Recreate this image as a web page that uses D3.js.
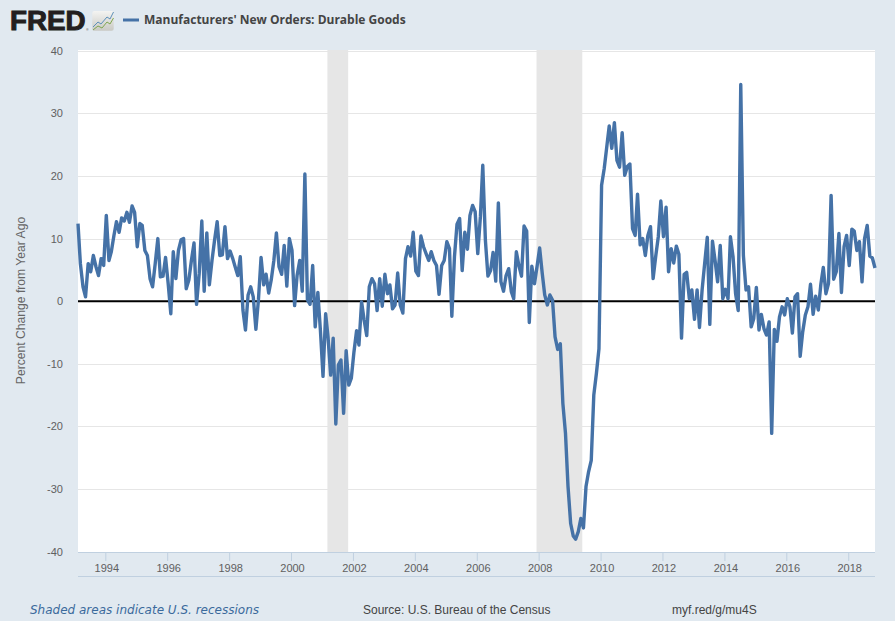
<!DOCTYPE html>
<html><head><meta charset="utf-8">
<script src="https://cdn.jsdelivr.net/npm/d3@7"></script>
<style>html,body{margin:0;padding:0;background:#e1e9f0;overflow:hidden}svg{display:block}</style>
</head><body><svg id="c" width="895" height="621"></svg>
<script>
const seriesTitle = "Manufacturers' New Orders: Durable Goods";
const yAxisTitle = "Percent Change from Year Ago";
const startMonth = "1993-02-01";
const endMonth = "2018-11-01";
const yTickValues = [40,30,20,10,0,-10,-20,-30,-40];
const xTickYears = [1994,1996,1998,2000,2002,2004,2006,2008,2010,2012,2014,2016,2018];
const recessions = [["2001-02-22","2001-10-25"],["2007-11-25","2009-05-18"]];
const percentChange = [
12.4,6,2.3,0.7,6,4.7,7.3,5.5,4.1,6.8,5.7,13.7,
6.5,7.9,10.5,12.7,11,13.3,12.8,14.2,12.6,15.2,14.2,8.7,
12.4,12.1,8.1,7.3,3.6,2.3,6,10,3.9,4,7,2.8,
-2,7.9,3.6,8.1,9.8,10,2,3.4,6.5,9.3,-0.5,4.4,
12.8,1.6,10.9,2.6,6.5,9.7,12.7,7.3,7.4,11.9,6.8,8,
6.8,5.5,4.1,7.1,-1.4,-4.6,1,2.3,0.7,-4.5,0.2,7,
2.6,4.3,1.3,3.4,6.5,10.9,5.5,4.3,8.9,2.4,10,8.1,
-0.7,4.1,6.5,1.6,20.3,0.2,-0.5,5.7,-4.1,1.4,-4.6,-12,
-2,-5.7,-11.8,-5.9,-19.6,-10.2,-9.4,-17.9,-7.9,-13.4,-12.3,-8.1,
-4.7,-7,-0.1,-3,-5.5,2.3,3.6,2.8,-1.5,3.6,-0.8,4.3,
1.2,2.6,-1.2,-0.6,4.5,-0.6,-1.9,6.8,8.7,7.2,11,4.8,
4.1,10.4,8.7,7.6,6.5,7.9,6.5,5.7,1.1,5.7,6.5,9.5,
8.4,-2.4,7.1,12.3,13.2,4.9,11,8.3,13.7,15.3,14.3,7.6,
13.5,21.7,9.7,4,4.9,7.8,3.2,15.7,3.1,1.6,4.1,5.2,
1.5,0.4,7.9,5.7,4,12,11.2,-3.4,5.6,2.8,5.5,8.5,
4.4,1,-0.6,1,0.2,-5.7,-7.7,-6.8,-16.3,-21.1,-29.6,-35.5,
-37.5,-38,-36.8,-34.7,-36.2,-29.6,-27.2,-25.4,-15,-11.5,-7.6,18.5,
21.2,24.4,28,24.4,28.5,22.5,21.4,26.9,20.1,21.5,21.9,11.6,
10.5,17.1,9,10,7.3,10.5,11.9,3.6,7.1,10.3,16,10.3,
15,4.7,8.4,6.1,8.8,7.5,-5.9,4.3,4.6,0.4,1.8,-2.9,
1.8,-4.2,1.8,6,10.2,-3.7,9.6,6.5,3.1,8.9,0.4,1.9,
0.4,10.3,7.1,1.2,-1.5,34.6,7.3,1.8,2.3,-4.1,-2.8,2.2,
-4.6,-2.1,-4.4,-5.4,-3.3,-21.1,-4.5,-6.4,-2.5,-0.9,-2.2,0.4,
-0.9,-5.1,0.7,1.2,-8.8,-4.9,-2.2,-0.9,2.7,-2.1,0.8,-1.4,
2.8,5.4,1.2,2.8,16.9,3.5,4.7,10.8,1.4,8.7,10.5,5.7,
11.5,11.2,8.1,9.5,3.1,10,12.1,7.2,6.9,5.3
];
const footerLeft = "Shaded areas indicate U.S. recessions";
const footerSource = "Source: U.S. Bureau of the Census";
const footerLink = "myf.red/g/mu4S";

const parse = d3.utcParse("%Y-%m-%d");
const months = d3.utcMonth.range(parse(startMonth), d3.utcMonth.offset(parse(endMonth),1));
const svg = d3.select("#c");
const x = d3.scaleUtc().domain([parse(startMonth),parse(endMonth)]).range([78,875]);
const y = d3.scaleLinear().domain([-40,40]).range([551.7,50.7]);
const plotTop = 50, plotBottom = 552;

svg.append("rect").attr("x",78).attr("y",plotTop).attr("width",797).attr("height",plotBottom-plotTop).attr("fill","#fff");
svg.append("g").selectAll("rect").data(recessions).join("rect")
  .attr("x",d=>x(parse(d[0]))).attr("y",plotTop)
  .attr("width",d=>x(parse(d[1]))-x(parse(d[0]))).attr("height",plotBottom-plotTop).attr("fill","#e6e6e6");

// grid
svg.append("g").selectAll("line").data(yTickValues.filter(v=>v!==0&&v!==-40)).join("line")
  .attr("x1",78).attr("x2",875).attr("y1",d=>Math.round(y(d))+.5).attr("y2",d=>Math.round(y(d))+.5)
  .attr("stroke","#e6e6e6").attr("stroke-width",1);

// y axis
const ya = svg.append("g").attr("transform","translate(78,0)")
  .call(d3.axisLeft(y).tickValues(yTickValues).tickFormat(d=>String(d)).tickSize(0).tickPadding(15));
ya.select(".domain").remove();
ya.selectAll("text").attr("font-family","'Liberation Sans',Arial,sans-serif").attr("font-size",11).attr("fill","#606060");

// zero line
svg.append("line").attr("x1",78).attr("x2",875).attr("y1",y(0)).attr("y2",y(0)).attr("stroke","#000").attr("stroke-width",2);

// series
const line = d3.line().x((d,i)=>x(months[i])).y(d=>y(d));
svg.append("path").datum(percentChange).attr("d",line).attr("fill","none")
  .attr("stroke","#4572a7").attr("stroke-width",3.4).attr("stroke-linejoin","round");

// x axis
const xa = svg.append("g").attr("transform",`translate(0,${plotBottom})`)
  .call(d3.axisBottom(x).tickValues(xTickYears.map(v=>new Date(Date.UTC(v,0,1))))
    .tickFormat(d3.utcFormat("%Y")).tickSize(9).tickPadding(3.5));
xa.select(".domain").remove();
xa.selectAll("line").attr("stroke","#c0d0e0").attr("x1",-1).attr("x2",-1);
xa.selectAll("text").attr("font-family","'Liberation Sans',Arial,sans-serif").attr("font-size",11).attr("fill","#606060");
svg.append("line").attr("x1",78).attr("x2",875).attr("y1",552.5).attr("y2",552.5).attr("stroke","#c0d0e0");
svg.append("line").attr("x1",78).attr("x2",875).attr("y1",576.5).attr("y2",576.5).attr("stroke","#c0d0e0");

// y title
svg.append("text").attr("transform","translate(24.5,300.5) rotate(-90)").attr("text-anchor","middle")
  .attr("font-family","'Liberation Sans',Arial,sans-serif").attr("font-size",12.15).attr("fill","#666").text(yAxisTitle);

// header
const logo = svg.append("g");
logo.append("text").attr("x",10).attr("y",30.3).attr("font-family","'Liberation Sans',Arial,sans-serif")
  .attr("font-weight",700).attr("font-size",27).attr("textLength",75.5).attr("lengthAdjust","spacingAndGlyphs")
  .attr("stroke","#231f20").attr("stroke-width",1).attr("fill","#231f20").text("FRED");
logo.append("text").attr("x",86.2).attr("y",31).attr("font-family","'Liberation Sans',Arial,sans-serif").attr("font-size",3).attr("fill","#231f20").text("®");
const defs = svg.append("defs");
const g = defs.append("linearGradient").attr("id","ic").attr("x1",0).attr("y1",0).attr("x2",0).attr("y2",1);
g.append("stop").attr("offset",0).attr("stop-color","#f4f4f2");
g.append("stop").attr("offset",1).attr("stop-color","#c9c9c4");
logo.append("rect").attr("x",92.3).attr("y",11).attr("width",21.4).attr("height",19.7).attr("rx",2).attr("fill","url(#ic)");
logo.append("path").attr("d","M93 27L98 22L101 24L107 17L110 19L113.500 12").attr("fill","none").attr("stroke","#5b8fb9").attr("stroke-width",1);
logo.append("path").attr("d","M93 30L98 26L102 28L107 22L110 24L113.500 18").attr("fill","none").attr("stroke","#7fa650").attr("stroke-width",1);

svg.append("line").attr("x1",123).attr("x2",139).attr("y1",20).attr("y2",20).attr("stroke","#4572a7").attr("stroke-width",3);
svg.append("text").attr("x",144).attr("y",24).attr("font-family","'Open Sans',sans-serif").attr("font-weight",700)
  .attr("font-size",12).attr("fill","#444").text(seriesTitle);

// footer
svg.append("text").attr("x",30).attr("y",614).attr("font-family","'DejaVu Sans',sans-serif").attr("font-style","italic")
  .attr("font-size",12).attr("fill","#3b6a9c").text(footerLeft);
svg.append("text").attr("x",363).attr("y",614).attr("font-family","'Liberation Sans',Arial,sans-serif")
  .attr("font-size",12).attr("fill","#444").text(footerSource);
svg.append("text").attr("x",672).attr("y",614).attr("font-family","'Liberation Sans',Arial,sans-serif")
  .attr("font-size",12).attr("fill","#444").text(footerLink);
</script></body></html>
